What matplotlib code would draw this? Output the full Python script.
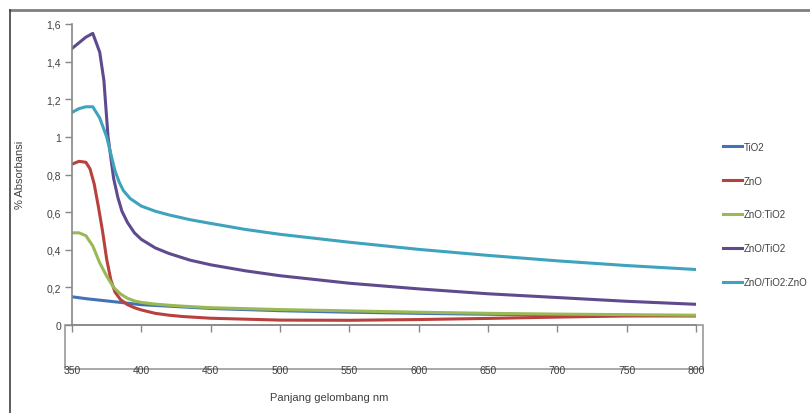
"""UV-Vis absorbance spectra of TiO2 / ZnO composite samples."""

import matplotlib

matplotlib.use("Agg")
from matplotlib import pyplot as plt
from matplotlib.lines import Line2D
from matplotlib.patches import Rectangle
from matplotlib.ticker import FuncFormatter, MultipleLocator

FONT = ["Liberation Sans Narrow", "Liberation Sans", "DejaVu Sans"]
plt.rcParams["font.family"] = FONT

# wavelength (nm) / absorbance pairs per sample
tio2_nm = [350, 360, 370, 380, 390, 400, 450, 500, 550, 600, 650, 700, 750, 800]
tio2_abs = [0.150, 0.140, 0.132, 0.124, 0.116, 0.108, 0.088, 0.076, 0.068, 0.062, 0.057, 0.053, 0.050, 0.048]

zno_nm = [350, 355, 360, 363, 366, 369, 372, 375, 378, 381, 385, 390, 395, 400, 410, 420, 430, 450,
          500, 550, 600, 650, 700, 750, 800]
zno_abs = [0.855, 0.870, 0.865, 0.830, 0.750, 0.630, 0.500, 0.350, 0.240, 0.175, 0.135, 0.108, 0.092,
           0.080, 0.062, 0.052, 0.045, 0.036, 0.026, 0.025, 0.029, 0.035, 0.042, 0.048, 0.050]

zno_tio2_nm = [350, 355, 360, 365, 370, 375, 380, 385, 390, 395, 400, 410, 420, 430, 450, 500, 550, 600,
               650, 700, 750, 800]
zno_tio2_abs = [0.490, 0.490, 0.475, 0.420, 0.330, 0.260, 0.200, 0.165, 0.142, 0.128, 0.120, 0.111,
                0.105, 0.100, 0.092, 0.082, 0.075, 0.068, 0.062, 0.058, 0.055, 0.052]

zno_on_tio2_nm = [350, 355, 360, 365, 370, 373, 376, 380, 383, 386, 390, 395, 400, 410, 420, 435, 450,
                  475, 500, 550, 600, 650, 700, 750, 800]
zno_on_tio2_abs = [1.470, 1.500, 1.530, 1.550, 1.450, 1.300, 1.000, 0.780, 0.680, 0.605, 0.545, 0.490,
                   0.455, 0.410, 0.380, 0.345, 0.320, 0.288, 0.262, 0.222, 0.192, 0.166, 0.146, 0.126, 0.110]

triple_nm = [350, 355, 360, 365, 370, 375, 378, 381, 384, 387, 392, 400, 410, 420, 435, 450, 475, 500,
             550, 600, 650, 700, 750, 800]
triple_abs = [1.130, 1.150, 1.160, 1.160, 1.100, 1.000, 0.910, 0.820, 0.760, 0.715, 0.672, 0.632, 0.605,
              0.585, 0.560, 0.540, 0.508, 0.482, 0.440, 0.402, 0.370, 0.341, 0.316, 0.295]

series = [
    ("TiO2", tio2_nm, tio2_abs, "#4472B4"),
    ("ZnO", zno_nm, zno_abs, "#B8403D"),
    ("ZnO:TiO2", zno_tio2_nm, zno_tio2_abs, "#98B954"),
    ("ZnO/TiO2", zno_on_tio2_nm, zno_on_tio2_abs, "#5E4A8C"),
    ("ZnO/TiO2:ZnO", triple_nm, triple_abs, "#3FA3BE"),
]

x_ticks = [350, 400, 450, 500, 550, 600, 650, 700, 750, 800]

W, H = 810, 414
fig = plt.figure(figsize=(W / 100, H / 100), dpi=100)
ax = fig.add_axes([72 / W, 88 / H, 624 / W, 301 / H])

for label, xs, ys, color in series:
    ax.plot(xs, ys, color=color, linewidth=2.2, label=label, solid_joinstyle="round")

ax.set_xlim(350, 800)
ax.set_ylim(0, 1.6)
ax.set_xticks(x_ticks)
ax.yaxis.set_major_locator(MultipleLocator(0.2))


def comma_fmt(value, _pos):
    if abs(value) < 1e-9:
        return "0"
    if abs(value - round(value)) < 1e-9:
        return f"{int(round(value))}"
    return f"{value:.1f}".replace(".", ",")


ax.yaxis.set_major_formatter(FuncFormatter(comma_fmt))
ax.tick_params(axis="both", colors="#888888", labelcolor="#404040", labelsize=7.5, length=5, width=1)
ax.tick_params(axis="y", direction="out", pad=3)
ax.tick_params(axis="x", direction="out", pad=24)
for side in ("top", "right"):
    ax.spines[side].set_visible(False)
for side in ("left", "bottom"):
    ax.spines[side].set_color("#888888")
    ax.spines[side].set_linewidth(1.2)

# box under the category axis labels
ax.add_patch(Rectangle((-7 / 624, -44 / 301), 1 + 14 / 624, 44 / 301, transform=ax.transAxes,
                       fill=False, edgecolor="#999999", linewidth=1.2, clip_on=False))

fig.text(20 / W, 1 - 175 / H, "% Absorbansi", rotation=90, ha="center", va="center",
         fontsize=8, color="#404040", family=FONT)
fig.text(329 / W, 1 - 398 / H, "Panjang gelombang nm", ha="center", va="center",
         fontsize=8, color="#404040", family=FONT)

handles = [Line2D([0], [0], color=c, linewidth=2.2) for _, _, _, c in series]
fig.legend(handles, [s[0] for s in series], loc="upper left", bbox_to_anchor=(714 / W, 1 - 134 / H),
           frameon=False, fontsize=7, handlelength=2.0, handletextpad=0.2, labelspacing=2.45,
           labelcolor="#404040")

# chart area border (top and left edges fall inside the image)
fig.add_artist(Line2D([10 / W, 1], [1 - 11 / H, 1 - 11 / H], transform=fig.transFigure, color="#808080", linewidth=2))
fig.add_artist(Line2D([10 / W, 10 / W], [0, 1 - 11 / H], transform=fig.transFigure, color="#404040", linewidth=1.2))

fig.savefig("out.png", dpi=100)
